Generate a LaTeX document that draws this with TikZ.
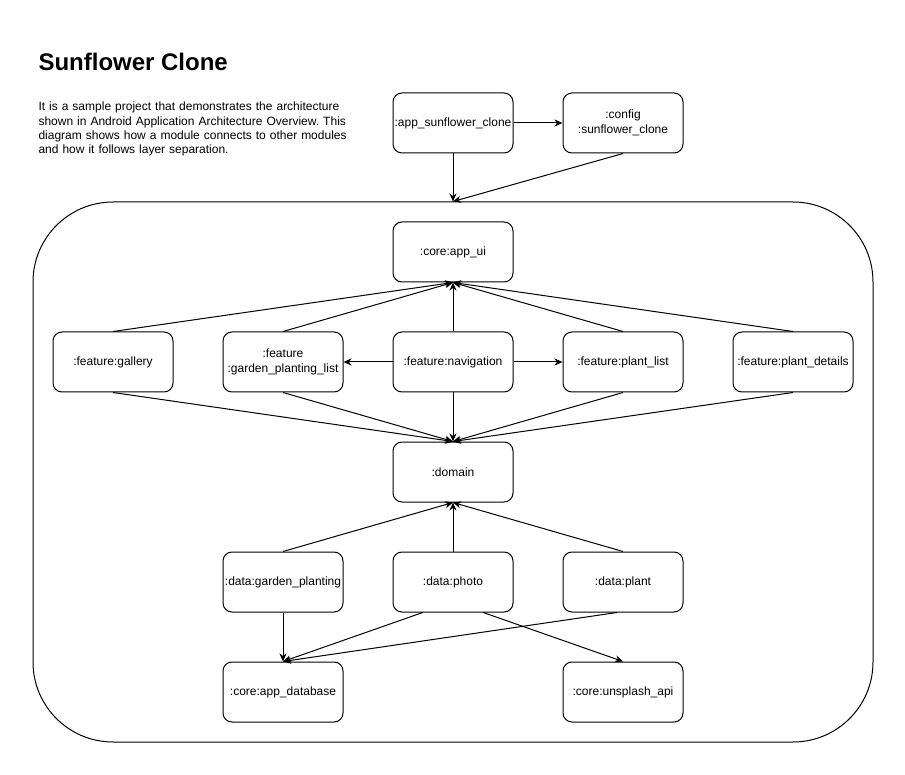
\documentclass[tikz,border=0pt]{standalone}
\usepackage{fontspec}
\setmainfont{Liberation Sans}
\usetikzlibrary{arrows.meta,calc}
\definecolor{LineClr}{RGB}{0,0,0}
\frenchspacing

\begin{document}
\begin{tikzpicture}[x=1pt,y=-1pt,line width=1pt,
  mod/.style={draw=LineClr,rounded corners=9pt,minimum width=120pt,minimum height=60pt,
    align=center,inner sep=1pt,font=\fontsize{12}{14.4}\selectfont},
  dep/.style={draw=LineClr,-{Stealth[length=8pt,width=7pt,inset=2.5pt]}}]
\useasboundingbox (0,0) rectangle (905,775);

% Title and description.
\node[anchor=base west,inner sep=0pt,font=\fontsize{24}{28}\selectfont\bfseries] (title) at (38,71) {Sunflower Clone};
\node[anchor=base west,inner sep=0pt,text width=320pt,align=left,font=\fontsize{12}{14.3}\selectfont] (desc) at (38,111)
  {It is a sample project that demonstrates the architecture\\
   shown in Android Application Architecture Overview. This\\
   diagram shows how a module connects to other modules\\
   and how it follows layer separation.};

% App modules.
\node[mod] (app) at (453,123) {:app\_sunflower\_clone};
\node[mod] (config) at (623,123) {:config\\:sunflower\_clone};

% Container with the other modules.
\node[draw=LineClr,rounded corners=80pt,minimum width=840pt,minimum height=540pt] (mods) at (453,472) {};

\node[mod] (appui) at (453,252) {:core:app\_ui};

\node[mod] (gallery) at (113,362) {:feature:gallery};
\node[mod] (gardenlist) at (283,362) {:feature\\:garden\_planting\_list};
\node[mod] (navigation) at (453,362) {:feature:navigation};
\node[mod] (plantlist) at (623,362) {:feature:plant\_list};
\node[mod] (plantdetails) at (793,362) {:feature:plant\_details};

\node[mod] (domain) at (453,472) {:domain};

\node[mod] (gardenplanting) at (283,582) {:data:garden\_planting};
\node[mod] (photo) at (453,582) {:data:photo};
\node[mod] (plant) at (623,582) {:data:plant};

\node[mod] (database) at (283,692) {:core:app\_database};
\node[mod] (unsplash) at (623,692) {:core:unsplash\_api};

% Dependencies.
\draw[dep] (app) -- (config);
\draw[dep] (app.south) -- (mods.north);
\draw[dep] (config.south) -- (mods.north);

\foreach \f in {gallery,gardenlist,navigation,plantlist,plantdetails}{
  \draw[dep] (\f.north) -- (appui.south);
  \draw[dep] (\f.south) -- (domain.north);
}
\draw[dep] (navigation) -- (gardenlist);
\draw[dep] (navigation) -- (plantlist);

\foreach \d in {gardenplanting,photo,plant}
  \draw[dep] (\d.north) -- (domain.south);

\draw[dep] (gardenplanting.south) -- (database.north);
\draw[dep] ($(photo.south west)!0.25!(photo.south east)$) -- (database.north);
\draw[dep] ($(photo.south west)!0.75!(photo.south east)$) -- (unsplash.north);
\draw[dep] ($(plant.south west)!0.45!(plant.south east)$) -- (database.north);

\end{tikzpicture}
\end{document}
